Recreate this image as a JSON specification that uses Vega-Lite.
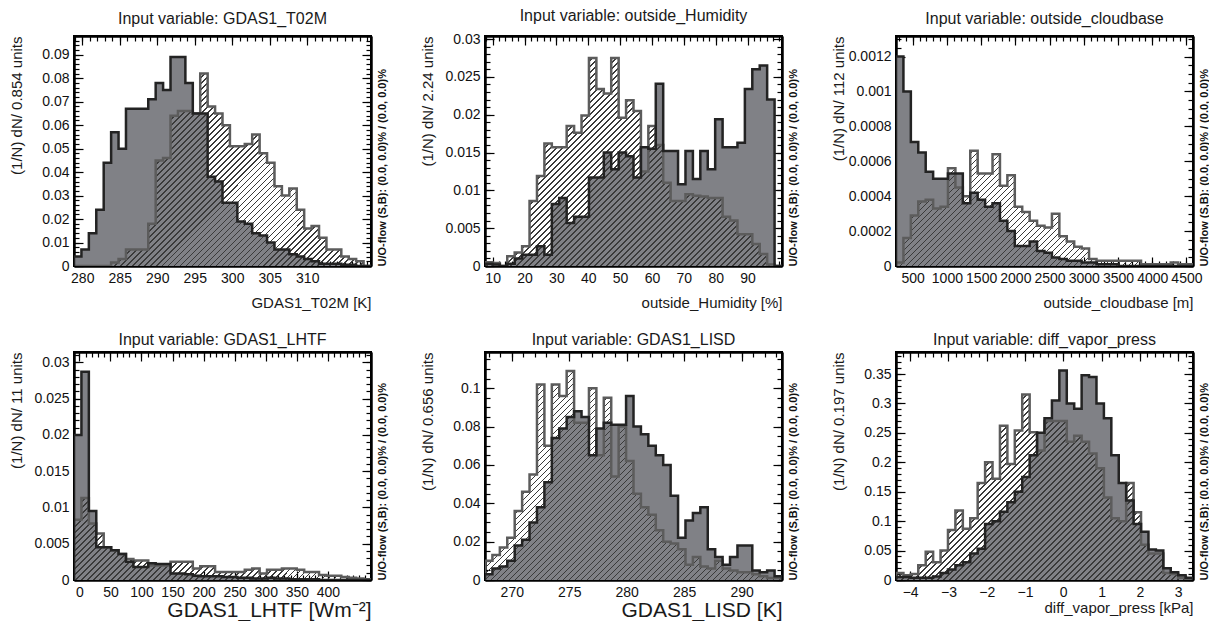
{
"$schema":"https://vega.github.io/schema/vega-lite/v6.json",
"autosize":{"type":"pad"},
"padding":{"left":7,"top":7,"right":0,"bottom":0},
"background":"white",
"params":[{"name":"hs","value":[
{"offset":0,"color":"transparent"},{"offset":0.007,"color":"transparent"},{"offset":0.007,"color":"#3a3a3a"},{"offset":0.01,"color":"#3a3a3a"},
{"offset":0.01,"color":"transparent"},{"offset":0.017,"color":"transparent"},{"offset":0.017,"color":"#3a3a3a"},{"offset":0.02,"color":"#3a3a3a"},
{"offset":0.02,"color":"transparent"},{"offset":0.027,"color":"transparent"},{"offset":0.027,"color":"#3a3a3a"},{"offset":0.03,"color":"#3a3a3a"},
{"offset":0.03,"color":"transparent"},{"offset":0.037,"color":"transparent"},{"offset":0.037,"color":"#3a3a3a"},{"offset":0.04,"color":"#3a3a3a"},
{"offset":0.04,"color":"transparent"},{"offset":0.047,"color":"transparent"},{"offset":0.047,"color":"#3a3a3a"},{"offset":0.05,"color":"#3a3a3a"},
{"offset":0.05,"color":"transparent"},{"offset":0.057,"color":"transparent"},{"offset":0.057,"color":"#3a3a3a"},{"offset":0.06,"color":"#3a3a3a"},
{"offset":0.06,"color":"transparent"},{"offset":0.067,"color":"transparent"},{"offset":0.067,"color":"#3a3a3a"},{"offset":0.07,"color":"#3a3a3a"},
{"offset":0.07,"color":"transparent"},{"offset":0.077,"color":"transparent"},{"offset":0.077,"color":"#3a3a3a"},{"offset":0.08,"color":"#3a3a3a"},
{"offset":0.08,"color":"transparent"},{"offset":0.087,"color":"transparent"},{"offset":0.087,"color":"#3a3a3a"},{"offset":0.09,"color":"#3a3a3a"},
{"offset":0.09,"color":"transparent"},{"offset":0.097,"color":"transparent"},{"offset":0.097,"color":"#3a3a3a"},{"offset":0.1,"color":"#3a3a3a"},
{"offset":0.1,"color":"transparent"},{"offset":0.107,"color":"transparent"},{"offset":0.107,"color":"#3a3a3a"},{"offset":0.11,"color":"#3a3a3a"},
{"offset":0.11,"color":"transparent"},{"offset":0.117,"color":"transparent"},{"offset":0.117,"color":"#3a3a3a"},{"offset":0.12,"color":"#3a3a3a"},
{"offset":0.12,"color":"transparent"},{"offset":0.127,"color":"transparent"},{"offset":0.127,"color":"#3a3a3a"},{"offset":0.13,"color":"#3a3a3a"},
{"offset":0.13,"color":"transparent"},{"offset":0.137,"color":"transparent"},{"offset":0.137,"color":"#3a3a3a"},{"offset":0.14,"color":"#3a3a3a"},
{"offset":0.14,"color":"transparent"},{"offset":0.147,"color":"transparent"},{"offset":0.147,"color":"#3a3a3a"},{"offset":0.15,"color":"#3a3a3a"},
{"offset":0.15,"color":"transparent"},{"offset":0.157,"color":"transparent"},{"offset":0.157,"color":"#3a3a3a"},{"offset":0.16,"color":"#3a3a3a"},
{"offset":0.16,"color":"transparent"},{"offset":0.167,"color":"transparent"},{"offset":0.167,"color":"#3a3a3a"},{"offset":0.17,"color":"#3a3a3a"},
{"offset":0.17,"color":"transparent"},{"offset":0.177,"color":"transparent"},{"offset":0.177,"color":"#3a3a3a"},{"offset":0.18,"color":"#3a3a3a"},
{"offset":0.18,"color":"transparent"},{"offset":0.187,"color":"transparent"},{"offset":0.187,"color":"#3a3a3a"},{"offset":0.19,"color":"#3a3a3a"},
{"offset":0.19,"color":"transparent"},{"offset":0.197,"color":"transparent"},{"offset":0.197,"color":"#3a3a3a"},{"offset":0.2,"color":"#3a3a3a"},
{"offset":0.2,"color":"transparent"},{"offset":0.207,"color":"transparent"},{"offset":0.207,"color":"#3a3a3a"},{"offset":0.21,"color":"#3a3a3a"},
{"offset":0.21,"color":"transparent"},{"offset":0.217,"color":"transparent"},{"offset":0.217,"color":"#3a3a3a"},{"offset":0.22,"color":"#3a3a3a"},
{"offset":0.22,"color":"transparent"},{"offset":0.227,"color":"transparent"},{"offset":0.227,"color":"#3a3a3a"},{"offset":0.23,"color":"#3a3a3a"},
{"offset":0.23,"color":"transparent"},{"offset":0.237,"color":"transparent"},{"offset":0.237,"color":"#3a3a3a"},{"offset":0.24,"color":"#3a3a3a"},
{"offset":0.24,"color":"transparent"},{"offset":0.247,"color":"transparent"},{"offset":0.247,"color":"#3a3a3a"},{"offset":0.25,"color":"#3a3a3a"},
{"offset":0.25,"color":"transparent"},{"offset":0.257,"color":"transparent"},{"offset":0.257,"color":"#3a3a3a"},{"offset":0.26,"color":"#3a3a3a"},
{"offset":0.26,"color":"transparent"},{"offset":0.267,"color":"transparent"},{"offset":0.267,"color":"#3a3a3a"},{"offset":0.27,"color":"#3a3a3a"},
{"offset":0.27,"color":"transparent"},{"offset":0.277,"color":"transparent"},{"offset":0.277,"color":"#3a3a3a"},{"offset":0.28,"color":"#3a3a3a"},
{"offset":0.28,"color":"transparent"},{"offset":0.287,"color":"transparent"},{"offset":0.287,"color":"#3a3a3a"},{"offset":0.29,"color":"#3a3a3a"},
{"offset":0.29,"color":"transparent"},{"offset":0.297,"color":"transparent"},{"offset":0.297,"color":"#3a3a3a"},{"offset":0.3,"color":"#3a3a3a"},
{"offset":0.3,"color":"transparent"},{"offset":0.307,"color":"transparent"},{"offset":0.307,"color":"#3a3a3a"},{"offset":0.31,"color":"#3a3a3a"},
{"offset":0.31,"color":"transparent"},{"offset":0.317,"color":"transparent"},{"offset":0.317,"color":"#3a3a3a"},{"offset":0.32,"color":"#3a3a3a"},
{"offset":0.32,"color":"transparent"},{"offset":0.327,"color":"transparent"},{"offset":0.327,"color":"#3a3a3a"},{"offset":0.33,"color":"#3a3a3a"},
{"offset":0.33,"color":"transparent"},{"offset":0.337,"color":"transparent"},{"offset":0.337,"color":"#3a3a3a"},{"offset":0.34,"color":"#3a3a3a"},
{"offset":0.34,"color":"transparent"},{"offset":0.347,"color":"transparent"},{"offset":0.347,"color":"#3a3a3a"},{"offset":0.35,"color":"#3a3a3a"},
{"offset":0.35,"color":"transparent"},{"offset":0.357,"color":"transparent"},{"offset":0.357,"color":"#3a3a3a"},{"offset":0.36,"color":"#3a3a3a"},
{"offset":0.36,"color":"transparent"},{"offset":0.367,"color":"transparent"},{"offset":0.367,"color":"#3a3a3a"},{"offset":0.37,"color":"#3a3a3a"},
{"offset":0.37,"color":"transparent"},{"offset":0.377,"color":"transparent"},{"offset":0.377,"color":"#3a3a3a"},{"offset":0.38,"color":"#3a3a3a"},
{"offset":0.38,"color":"transparent"},{"offset":0.387,"color":"transparent"},{"offset":0.387,"color":"#3a3a3a"},{"offset":0.39,"color":"#3a3a3a"},
{"offset":0.39,"color":"transparent"},{"offset":0.397,"color":"transparent"},{"offset":0.397,"color":"#3a3a3a"},{"offset":0.4,"color":"#3a3a3a"},
{"offset":0.4,"color":"transparent"},{"offset":0.407,"color":"transparent"},{"offset":0.407,"color":"#3a3a3a"},{"offset":0.41,"color":"#3a3a3a"},
{"offset":0.41,"color":"transparent"},{"offset":0.417,"color":"transparent"},{"offset":0.417,"color":"#3a3a3a"},{"offset":0.42,"color":"#3a3a3a"},
{"offset":0.42,"color":"transparent"},{"offset":0.427,"color":"transparent"},{"offset":0.427,"color":"#3a3a3a"},{"offset":0.43,"color":"#3a3a3a"},
{"offset":0.43,"color":"transparent"},{"offset":0.437,"color":"transparent"},{"offset":0.437,"color":"#3a3a3a"},{"offset":0.44,"color":"#3a3a3a"},
{"offset":0.44,"color":"transparent"},{"offset":0.447,"color":"transparent"},{"offset":0.447,"color":"#3a3a3a"},{"offset":0.45,"color":"#3a3a3a"},
{"offset":0.45,"color":"transparent"},{"offset":0.457,"color":"transparent"},{"offset":0.457,"color":"#3a3a3a"},{"offset":0.46,"color":"#3a3a3a"},
{"offset":0.46,"color":"transparent"},{"offset":0.467,"color":"transparent"},{"offset":0.467,"color":"#3a3a3a"},{"offset":0.47,"color":"#3a3a3a"},
{"offset":0.47,"color":"transparent"},{"offset":0.477,"color":"transparent"},{"offset":0.477,"color":"#3a3a3a"},{"offset":0.48,"color":"#3a3a3a"},
{"offset":0.48,"color":"transparent"},{"offset":0.487,"color":"transparent"},{"offset":0.487,"color":"#3a3a3a"},{"offset":0.49,"color":"#3a3a3a"},
{"offset":0.49,"color":"transparent"},{"offset":0.497,"color":"transparent"},{"offset":0.497,"color":"#3a3a3a"},{"offset":0.5,"color":"#3a3a3a"},
{"offset":0.5,"color":"transparent"},{"offset":0.507,"color":"transparent"},{"offset":0.507,"color":"#3a3a3a"},{"offset":0.51,"color":"#3a3a3a"},
{"offset":0.51,"color":"transparent"},{"offset":0.517,"color":"transparent"},{"offset":0.517,"color":"#3a3a3a"},{"offset":0.52,"color":"#3a3a3a"},
{"offset":0.52,"color":"transparent"},{"offset":0.527,"color":"transparent"},{"offset":0.527,"color":"#3a3a3a"},{"offset":0.53,"color":"#3a3a3a"},
{"offset":0.53,"color":"transparent"},{"offset":0.537,"color":"transparent"},{"offset":0.537,"color":"#3a3a3a"},{"offset":0.54,"color":"#3a3a3a"},
{"offset":0.54,"color":"transparent"},{"offset":0.547,"color":"transparent"},{"offset":0.547,"color":"#3a3a3a"},{"offset":0.55,"color":"#3a3a3a"},
{"offset":0.55,"color":"transparent"},{"offset":0.557,"color":"transparent"},{"offset":0.557,"color":"#3a3a3a"},{"offset":0.56,"color":"#3a3a3a"},
{"offset":0.56,"color":"transparent"},{"offset":0.567,"color":"transparent"},{"offset":0.567,"color":"#3a3a3a"},{"offset":0.57,"color":"#3a3a3a"},
{"offset":0.57,"color":"transparent"},{"offset":0.577,"color":"transparent"},{"offset":0.577,"color":"#3a3a3a"},{"offset":0.58,"color":"#3a3a3a"},
{"offset":0.58,"color":"transparent"},{"offset":0.587,"color":"transparent"},{"offset":0.587,"color":"#3a3a3a"},{"offset":0.59,"color":"#3a3a3a"},
{"offset":0.59,"color":"transparent"},{"offset":0.597,"color":"transparent"},{"offset":0.597,"color":"#3a3a3a"},{"offset":0.6,"color":"#3a3a3a"},
{"offset":0.6,"color":"transparent"},{"offset":0.607,"color":"transparent"},{"offset":0.607,"color":"#3a3a3a"},{"offset":0.61,"color":"#3a3a3a"},
{"offset":0.61,"color":"transparent"},{"offset":0.617,"color":"transparent"},{"offset":0.617,"color":"#3a3a3a"},{"offset":0.62,"color":"#3a3a3a"},
{"offset":0.62,"color":"transparent"},{"offset":0.627,"color":"transparent"},{"offset":0.627,"color":"#3a3a3a"},{"offset":0.63,"color":"#3a3a3a"},
{"offset":0.63,"color":"transparent"},{"offset":0.637,"color":"transparent"},{"offset":0.637,"color":"#3a3a3a"},{"offset":0.64,"color":"#3a3a3a"},
{"offset":0.64,"color":"transparent"},{"offset":0.647,"color":"transparent"},{"offset":0.647,"color":"#3a3a3a"},{"offset":0.65,"color":"#3a3a3a"},
{"offset":0.65,"color":"transparent"},{"offset":0.657,"color":"transparent"},{"offset":0.657,"color":"#3a3a3a"},{"offset":0.66,"color":"#3a3a3a"},
{"offset":0.66,"color":"transparent"},{"offset":0.667,"color":"transparent"},{"offset":0.667,"color":"#3a3a3a"},{"offset":0.67,"color":"#3a3a3a"},
{"offset":0.67,"color":"transparent"},{"offset":0.677,"color":"transparent"},{"offset":0.677,"color":"#3a3a3a"},{"offset":0.68,"color":"#3a3a3a"},
{"offset":0.68,"color":"transparent"},{"offset":0.687,"color":"transparent"},{"offset":0.687,"color":"#3a3a3a"},{"offset":0.69,"color":"#3a3a3a"},
{"offset":0.69,"color":"transparent"},{"offset":0.697,"color":"transparent"},{"offset":0.697,"color":"#3a3a3a"},{"offset":0.7,"color":"#3a3a3a"},
{"offset":0.7,"color":"transparent"},{"offset":0.707,"color":"transparent"},{"offset":0.707,"color":"#3a3a3a"},{"offset":0.71,"color":"#3a3a3a"},
{"offset":0.71,"color":"transparent"},{"offset":0.717,"color":"transparent"},{"offset":0.717,"color":"#3a3a3a"},{"offset":0.72,"color":"#3a3a3a"},
{"offset":0.72,"color":"transparent"},{"offset":0.727,"color":"transparent"},{"offset":0.727,"color":"#3a3a3a"},{"offset":0.73,"color":"#3a3a3a"},
{"offset":0.73,"color":"transparent"},{"offset":0.737,"color":"transparent"},{"offset":0.737,"color":"#3a3a3a"},{"offset":0.74,"color":"#3a3a3a"},
{"offset":0.74,"color":"transparent"},{"offset":0.747,"color":"transparent"},{"offset":0.747,"color":"#3a3a3a"},{"offset":0.75,"color":"#3a3a3a"},
{"offset":0.75,"color":"transparent"},{"offset":0.757,"color":"transparent"},{"offset":0.757,"color":"#3a3a3a"},{"offset":0.76,"color":"#3a3a3a"},
{"offset":0.76,"color":"transparent"},{"offset":0.767,"color":"transparent"},{"offset":0.767,"color":"#3a3a3a"},{"offset":0.77,"color":"#3a3a3a"},
{"offset":0.77,"color":"transparent"},{"offset":0.777,"color":"transparent"},{"offset":0.777,"color":"#3a3a3a"},{"offset":0.78,"color":"#3a3a3a"},
{"offset":0.78,"color":"transparent"},{"offset":0.787,"color":"transparent"},{"offset":0.787,"color":"#3a3a3a"},{"offset":0.79,"color":"#3a3a3a"},
{"offset":0.79,"color":"transparent"},{"offset":0.797,"color":"transparent"},{"offset":0.797,"color":"#3a3a3a"},{"offset":0.8,"color":"#3a3a3a"},
{"offset":0.8,"color":"transparent"},{"offset":0.807,"color":"transparent"},{"offset":0.807,"color":"#3a3a3a"},{"offset":0.81,"color":"#3a3a3a"},
{"offset":0.81,"color":"transparent"},{"offset":0.817,"color":"transparent"},{"offset":0.817,"color":"#3a3a3a"},{"offset":0.82,"color":"#3a3a3a"},
{"offset":0.82,"color":"transparent"},{"offset":0.827,"color":"transparent"},{"offset":0.827,"color":"#3a3a3a"},{"offset":0.83,"color":"#3a3a3a"},
{"offset":0.83,"color":"transparent"},{"offset":0.837,"color":"transparent"},{"offset":0.837,"color":"#3a3a3a"},{"offset":0.84,"color":"#3a3a3a"},
{"offset":0.84,"color":"transparent"},{"offset":0.847,"color":"transparent"},{"offset":0.847,"color":"#3a3a3a"},{"offset":0.85,"color":"#3a3a3a"},
{"offset":0.85,"color":"transparent"},{"offset":0.857,"color":"transparent"},{"offset":0.857,"color":"#3a3a3a"},{"offset":0.86,"color":"#3a3a3a"},
{"offset":0.86,"color":"transparent"},{"offset":0.867,"color":"transparent"},{"offset":0.867,"color":"#3a3a3a"},{"offset":0.87,"color":"#3a3a3a"},
{"offset":0.87,"color":"transparent"},{"offset":0.877,"color":"transparent"},{"offset":0.877,"color":"#3a3a3a"},{"offset":0.88,"color":"#3a3a3a"},
{"offset":0.88,"color":"transparent"},{"offset":0.887,"color":"transparent"},{"offset":0.887,"color":"#3a3a3a"},{"offset":0.89,"color":"#3a3a3a"},
{"offset":0.89,"color":"transparent"},{"offset":0.897,"color":"transparent"},{"offset":0.897,"color":"#3a3a3a"},{"offset":0.9,"color":"#3a3a3a"}
]}],
"datasets":{
"p1":[
{"i":0,"x":278.9,"s":0,"b":0},{"i":1,"x":278.9,"s":0.004,"b":0},{"i":2,"x":279.89,"s":0.007,"b":0},{"i":3,"x":280.88,"s":0.014,"b":0},{"i":4,"x":281.87,"s":0.024,"b":0},{"i":5,"x":282.86,"s":0.044,"b":0},{"i":6,"x":283.85,"s":0.057,"b":0.0015},{"i":7,"x":284.84,"s":0.05,"b":0.003},{"i":8,"x":285.83,"s":0.067,"b":0.007},{"i":9,"x":286.82,"s":0.067,"b":0.007},{"i":10,"x":287.81,"s":0.067,"b":0.007},{"i":11,"x":288.8,"s":0.071,"b":0.018},{"i":12,"x":289.79,"s":0.078,"b":0.045},{"i":13,"x":290.78,"s":0.075,"b":0.046},{"i":14,"x":291.77,"s":0.089,"b":0.064},{"i":15,"x":292.76,"s":0.089,"b":0.066},{"i":16,"x":293.75,"s":0.078,"b":0.066},{"i":17,"x":294.74,"s":0.065,"b":0.065},{"i":18,"x":295.73,"s":0.065,"b":0.082},{"i":19,"x":296.72,"s":0.038,"b":0.068},{"i":20,"x":297.71,"s":0.036,"b":0.065},{"i":21,"x":298.7,"s":0.027,"b":0.06},{"i":22,"x":299.69,"s":0.027,"b":0.051},{"i":23,"x":300.68,"s":0.019,"b":0.051},{"i":24,"x":301.67,"s":0.018,"b":0.052},{"i":25,"x":302.66,"s":0.014,"b":0.056},{"i":26,"x":303.65,"s":0.013,"b":0.048},{"i":27,"x":304.64,"s":0.01,"b":0.044},{"i":28,"x":305.63,"s":0.007,"b":0.034},{"i":29,"x":306.62,"s":0.007,"b":0.03},{"i":30,"x":307.61,"s":0.005,"b":0.033},{"i":31,"x":308.6,"s":0.004,"b":0.024},{"i":32,"x":309.59,"s":0.003,"b":0.016},{"i":33,"x":310.58,"s":0.002,"b":0.017},{"i":34,"x":311.57,"s":0.001,"b":0.012},{"i":35,"x":312.56,"s":0.001,"b":0.007},{"i":36,"x":313.55,"s":0.001,"b":0.007},{"i":37,"x":314.54,"s":0.0005,"b":0.004},{"i":38,"x":315.53,"s":0.0005,"b":0.003},{"i":39,"x":316.52,"s":0,"b":0.002},{"i":40,"x":317.51,"s":0,"b":0},{"i":41,"x":318.5,"s":0,"b":0}
],
"p2":[
{"i":0,"x":7.6,"s":0,"b":0},{"i":1,"x":7.6,"s":0.0003,"b":0.0005},{"i":2,"x":9.93,"s":0.0002,"b":0.0004},{"i":3,"x":12.26,"s":0,"b":0},{"i":4,"x":14.59,"s":0.0003,"b":0.0013},{"i":5,"x":16.92,"s":0.001,"b":0.0018},{"i":6,"x":19.25,"s":0.0015,"b":0.0026},{"i":7,"x":21.58,"s":0.0015,"b":0.0086},{"i":8,"x":23.91,"s":0.0026,"b":0.0119},{"i":9,"x":26.24,"s":0.0015,"b":0.0162},{"i":10,"x":28.57,"s":0.0082,"b":0.0157},{"i":11,"x":30.9,"s":0.009,"b":0.0157},{"i":12,"x":33.23,"s":0.0057,"b":0.0185},{"i":13,"x":35.56,"s":0.0065,"b":0.0176},{"i":14,"x":37.89,"s":0.0065,"b":0.0199},{"i":15,"x":40.22,"s":0.0117,"b":0.0275},{"i":16,"x":42.55,"s":0.0117,"b":0.0234},{"i":17,"x":44.88,"s":0.015,"b":0.0228},{"i":18,"x":47.21,"s":0.0128,"b":0.0275},{"i":19,"x":49.54,"s":0.015,"b":0.0196},{"i":20,"x":51.87,"s":0.0145,"b":0.0219},{"i":21,"x":54.2,"s":0.0117,"b":0.0205},{"i":22,"x":56.53,"s":0.0157,"b":0.0125},{"i":23,"x":58.86,"s":0.0155,"b":0.0185},{"i":24,"x":61.19,"s":0.0241,"b":0.016},{"i":25,"x":63.52,"s":0.0152,"b":0.011},{"i":26,"x":65.85,"s":0.0152,"b":0.0086},{"i":27,"x":68.18,"s":0.0108,"b":0.0086},{"i":28,"x":70.51,"s":0.0152,"b":0.0095},{"i":29,"x":72.84,"s":0.0115,"b":0.0093},{"i":30,"x":75.17,"s":0.0152,"b":0.0092},{"i":31,"x":77.5,"s":0.0128,"b":0.009},{"i":32,"x":79.83,"s":0.0194,"b":0.009},{"i":33,"x":82.16,"s":0.0157,"b":0.0065},{"i":34,"x":84.49,"s":0.0157,"b":0.006},{"i":35,"x":86.82,"s":0.0163,"b":0.0042},{"i":36,"x":89.15,"s":0.0234,"b":0.0042},{"i":37,"x":91.48,"s":0.026,"b":0.0029},{"i":38,"x":93.81,"s":0.0265,"b":0.0016},{"i":39,"x":96.14,"s":0.022,"b":0.0002},{"i":40,"x":98.47,"s":0,"b":0},{"i":41,"x":100.8,"s":0,"b":0}
],
"p3":[
{"i":0,"x":256,"s":0,"b":0},{"i":1,"x":256,"s":0.0012,"b":0.00002},{"i":2,"x":364.5,"s":0.001,"b":0.00016},{"i":3,"x":473,"s":0.00071,"b":0.00029},{"i":4,"x":581.5,"s":0.00065,"b":0.00037},{"i":5,"x":690,"s":0.00054,"b":0.00038},{"i":6,"x":798.5,"s":0.0005,"b":0.00033},{"i":7,"x":907,"s":0.0005,"b":0.00034},{"i":8,"x":1015.5,"s":0.00053,"b":0.00056},{"i":9,"x":1124,"s":0.00053,"b":0.00045},{"i":10,"x":1232.5,"s":0.00036,"b":0.0004},{"i":11,"x":1341,"s":0.00042,"b":0.00066},{"i":12,"x":1449.5,"s":0.00038,"b":0.00053},{"i":13,"x":1558,"s":0.00034,"b":0.00053},{"i":14,"x":1666.5,"s":0.00036,"b":0.00064},{"i":15,"x":1775,"s":0.00026,"b":0.00046},{"i":16,"x":1883.5,"s":0.0002,"b":0.00052},{"i":17,"x":1992,"s":0.000115,"b":0.00034},{"i":18,"x":2100.5,"s":0.000115,"b":0.00031},{"i":19,"x":2209,"s":0.00014,"b":0.00026},{"i":20,"x":2317.5,"s":0.000086,"b":0.00023},{"i":21,"x":2426,"s":0.000076,"b":0.00022},{"i":22,"x":2534.5,"s":0.000048,"b":0.0003},{"i":23,"x":2643,"s":0.00004,"b":0.00017},{"i":24,"x":2751.5,"s":0.00003,"b":0.00014},{"i":25,"x":2860,"s":0.00003,"b":0.00011},{"i":26,"x":2968.5,"s":0.00002,"b":0.0001},{"i":27,"x":3077,"s":0.00002,"b":0.00004},{"i":28,"x":3185.5,"s":0.00001,"b":0.00003},{"i":29,"x":3294,"s":0.00001,"b":0.00003},{"i":30,"x":3402.5,"s":0.00001,"b":0.00003},{"i":31,"x":3511,"s":0,"b":0.00003},{"i":32,"x":3619.5,"s":0,"b":0.00003},{"i":33,"x":3728,"s":0,"b":0.00003},{"i":34,"x":3836.5,"s":0,"b":0.00001},{"i":35,"x":3945,"s":0,"b":0.00001},{"i":36,"x":4053.5,"s":0,"b":0.00001},{"i":37,"x":4162,"s":0,"b":0.00001},{"i":38,"x":4270.5,"s":0,"b":0.00002},{"i":39,"x":4379,"s":0,"b":0.00001},{"i":40,"x":4487.5,"s":0,"b":0.00001},{"i":41,"x":4596,"s":0,"b":0}
],
"p4":[
{"i":0,"x":-8.6,"s":0,"b":0},{"i":1,"x":-8.6,"s":0.02,"b":0.0083},{"i":2,"x":3.35,"s":0.0287,"b":0.0113},{"i":3,"x":15.3,"s":0.0095,"b":0.0078},{"i":4,"x":27.25,"s":0.0045,"b":0.0064},{"i":5,"x":39.2,"s":0.0045,"b":0.0045},{"i":6,"x":51.15,"s":0.0041,"b":0.0041},{"i":7,"x":63.1,"s":0.0036,"b":0.0036},{"i":8,"x":75.05,"s":0.0025,"b":0.0029},{"i":9,"x":87,"s":0.0018,"b":0.0027},{"i":10,"x":98.95,"s":0.0018,"b":0.0027},{"i":11,"x":110.9,"s":0.0023,"b":0.002},{"i":12,"x":122.85,"s":0.0022,"b":0.002},{"i":13,"x":134.8,"s":0.0022,"b":0.002},{"i":14,"x":146.75,"s":0.0009,"b":0.0025},{"i":15,"x":158.7,"s":0.0009,"b":0.0025},{"i":16,"x":170.65,"s":0.0008,"b":0.0025},{"i":17,"x":182.6,"s":0.0006,"b":0.0016},{"i":18,"x":194.55,"s":0.0005,"b":0.0019},{"i":19,"x":206.5,"s":0.0005,"b":0.0019},{"i":20,"x":218.45,"s":0.0005,"b":0.0011},{"i":21,"x":230.4,"s":0.0004,"b":0.0011},{"i":22,"x":242.35,"s":0.0004,"b":0.0011},{"i":23,"x":254.3,"s":0.0003,"b":0.0011},{"i":24,"x":266.25,"s":0.0003,"b":0.0014},{"i":25,"x":278.2,"s":0.0002,"b":0.0016},{"i":26,"x":290.15,"s":0.0002,"b":0.0009},{"i":27,"x":302.1,"s":0.0003,"b":0.0014},{"i":28,"x":314.05,"s":0.0002,"b":0.0014},{"i":29,"x":326,"s":0.0002,"b":0.0016},{"i":30,"x":337.95,"s":0.0001,"b":0.0016},{"i":31,"x":349.9,"s":0.0001,"b":0.0014},{"i":32,"x":361.85,"s":0.0001,"b":0.0011},{"i":33,"x":373.8,"s":0.0001,"b":0.0011},{"i":34,"x":385.75,"s":0,"b":0.0007},{"i":35,"x":397.7,"s":0,"b":0.0006},{"i":36,"x":409.65,"s":0,"b":0.0006},{"i":37,"x":421.6,"s":0,"b":0.0004},{"i":38,"x":433.55,"s":0,"b":0.0003},{"i":39,"x":445.5,"s":0,"b":0.0002},{"i":40,"x":457.45,"s":0,"b":0.0001},{"i":41,"x":469.4,"s":0,"b":0}
],
"p5":[
{"i":0,"x":267.67,"s":0,"b":0},{"i":1,"x":267.67,"s":0.003,"b":0.01},{"i":2,"x":268.316,"s":0.006,"b":0.013},{"i":3,"x":268.962,"s":0.007,"b":0.017},{"i":4,"x":269.608,"s":0.01,"b":0.022},{"i":5,"x":270.254,"s":0.018,"b":0.036},{"i":6,"x":270.9,"s":0.021,"b":0.046},{"i":7,"x":271.546,"s":0.03,"b":0.055},{"i":8,"x":272.192,"s":0.038,"b":0.102},{"i":9,"x":272.838,"s":0.051,"b":0.07},{"i":10,"x":273.484,"s":0.074,"b":0.102},{"i":11,"x":274.13,"s":0.079,"b":0.096},{"i":12,"x":274.776,"s":0.085,"b":0.109},{"i":13,"x":275.422,"s":0.088,"b":0.082},{"i":14,"x":276.068,"s":0.085,"b":0.082},{"i":15,"x":276.714,"s":0.065,"b":0.1},{"i":16,"x":277.36,"s":0.079,"b":0.065},{"i":17,"x":278.006,"s":0.082,"b":0.095},{"i":18,"x":278.652,"s":0.081,"b":0.054},{"i":19,"x":279.298,"s":0.081,"b":0.08},{"i":20,"x":279.944,"s":0.096,"b":0.062},{"i":21,"x":280.59,"s":0.08,"b":0.045},{"i":22,"x":281.236,"s":0.076,"b":0.038},{"i":23,"x":281.882,"s":0.07,"b":0.034},{"i":24,"x":282.528,"s":0.065,"b":0.026},{"i":25,"x":283.174,"s":0.06,"b":0.02},{"i":26,"x":283.82,"s":0.044,"b":0.019},{"i":27,"x":284.466,"s":0.022,"b":0.016},{"i":28,"x":285.112,"s":0.031,"b":0.008},{"i":29,"x":285.758,"s":0.035,"b":0.012},{"i":30,"x":286.404,"s":0.038,"b":0.007},{"i":31,"x":287.05,"s":0.016,"b":0.006},{"i":32,"x":287.696,"s":0.012,"b":0.01},{"i":33,"x":288.342,"s":0.008,"b":0.006},{"i":34,"x":288.988,"s":0.012,"b":0.005},{"i":35,"x":289.634,"s":0.018,"b":0.004},{"i":36,"x":290.28,"s":0.018,"b":0.004},{"i":37,"x":290.926,"s":0.005,"b":0.003},{"i":38,"x":291.572,"s":0.004,"b":0.002},{"i":39,"x":292.218,"s":0.005,"b":0.001},{"i":40,"x":292.864,"s":0.002,"b":0.001},{"i":41,"x":293.51,"s":0,"b":0}
],
"p6":[
{"i":0,"x":-4.37,"s":0,"b":0},{"i":1,"x":-4.37,"s":0.005,"b":0.012},{"i":2,"x":-4.176,"s":0.005,"b":0.008},{"i":3,"x":-3.982,"s":0.004,"b":0.01},{"i":4,"x":-3.788,"s":0.004,"b":0.025},{"i":5,"x":-3.594,"s":0.004,"b":0.048},{"i":6,"x":-3.4,"s":0.006,"b":0.03},{"i":7,"x":-3.206,"s":0.012,"b":0.05},{"i":8,"x":-3.012,"s":0.018,"b":0.085},{"i":9,"x":-2.818,"s":0.025,"b":0.118},{"i":10,"x":-2.624,"s":0.03,"b":0.087},{"i":11,"x":-2.43,"s":0.045,"b":0.105},{"i":12,"x":-2.236,"s":0.053,"b":0.165},{"i":13,"x":-2.042,"s":0.095,"b":0.2},{"i":14,"x":-1.848,"s":0.1,"b":0.172},{"i":15,"x":-1.654,"s":0.116,"b":0.262},{"i":16,"x":-1.46,"s":0.132,"b":0.197},{"i":17,"x":-1.266,"s":0.15,"b":0.254},{"i":18,"x":-1.072,"s":0.175,"b":0.315},{"i":19,"x":-0.878,"s":0.212,"b":0.251},{"i":20,"x":-0.684,"s":0.25,"b":0.22},{"i":21,"x":-0.49,"s":0.275,"b":0.27},{"i":22,"x":-0.296,"s":0.305,"b":0.27},{"i":23,"x":-0.102,"s":0.356,"b":0.27},{"i":24,"x":0.092,"s":0.3,"b":0.235},{"i":25,"x":0.286,"s":0.291,"b":0.245},{"i":26,"x":0.48,"s":0.348,"b":0.235},{"i":27,"x":0.674,"s":0.345,"b":0.215},{"i":28,"x":0.868,"s":0.3,"b":0.19},{"i":29,"x":1.062,"s":0.275,"b":0.14},{"i":30,"x":1.256,"s":0.212,"b":0.105},{"i":31,"x":1.45,"s":0.165,"b":0.1},{"i":32,"x":1.644,"s":0.135,"b":0.165},{"i":33,"x":1.838,"s":0.095,"b":0.115},{"i":34,"x":2.032,"s":0.082,"b":0.06},{"i":35,"x":2.226,"s":0.052,"b":0.045},{"i":36,"x":2.42,"s":0.05,"b":0.045},{"i":37,"x":2.614,"s":0.02,"b":0.012},{"i":38,"x":2.808,"s":0.013,"b":0.01},{"i":39,"x":3.002,"s":0.008,"b":0.004},{"i":40,"x":3.196,"s":0.004,"b":0.002},{"i":41,"x":3.39,"s":0,"b":0}
]
},
"columns":3,
"spacing":{"row":86,"column":114},
"bounds":"flush",
"concat":[
{"width":297,"height":230,"title":{"text":"Input variable: GDAS1_T02M"},"data":{"name":"p1"},
 "resolve":{"axis":{"x":"independent","y":"independent"}},
 "layer":[
  {"mark":{"type":"area","interpolate":"step-after","fill":"#808186","clip":true},
   "encoding":{"x":{"field":"x","type":"quantitative","scale":{"domain":[278.9,318.5],"nice":false,"zero":false},"axis":{"orient":"bottom","values":[280,285,290,295,300,305,310],"labelExpr":"format(datum.value,'~g')","title":"GDAS1_T02M [K]","titlePadding":10}},
    "y":{"field":"s","type":"quantitative","stack":null,"scale":{"domain":[0,0.098],"nice":false},"axis":{"orient":"left","values":[0,0.01,0.02,0.03,0.04,0.05,0.06,0.07,0.08,0.09],"labelExpr":"format(datum.value,'~g')","title":"(1/N) dN/ 0.854 units"}}}},
  {"mark":{"type":"area","interpolate":"step-after","clip":true,"fill":{"expr":"{gradient:'linear',x1:0,y1:0,x2:1.42,y2:0.92,stops:hs}"}},
   "encoding":{"x":{"field":"x","type":"quantitative","scale":{"domain":[278.9,318.5],"nice":false,"zero":false},"axis":{"orient":"bottom","tickCount":40,"labels":false,"title":null,"tickSize":-5}},
    "y":{"field":"b","type":"quantitative","stack":null,"scale":{"domain":[0,0.098],"nice":false},"axis":{"orient":"left","tickCount":50,"labels":false,"title":null,"tickSize":-5}}}},
  {"mark":{"type":"line","interpolate":"step-after","stroke":"#5c5c5c","strokeWidth":2.5,"clip":true},
   "encoding":{"x":{"field":"x","type":"quantitative","scale":{"domain":[278.9,318.5],"nice":false,"zero":false},"axis":{"orient":"top","values":[280,285,290,295,300,305,310],"labels":false,"title":null}},
    "y":{"field":"b","type":"quantitative","scale":{"domain":[0,0.098],"nice":false},"axis":{"orient":"right","values":[0,0.01,0.02,0.03,0.04,0.05,0.06,0.07,0.08,0.09],"labels":false,"title":"U/O-flow (S,B): (0.0, 0.0)% / (0.0, 0.0)%"}},"order":{"field":"i"}}},
  {"mark":{"type":"line","interpolate":"step-after","stroke":"#232323","strokeWidth":2.5,"clip":true},
   "encoding":{"x":{"field":"x","type":"quantitative","scale":{"domain":[278.9,318.5],"nice":false,"zero":false},"axis":{"orient":"top","tickCount":40,"labels":false,"title":null,"tickSize":-5}},
    "y":{"field":"s","type":"quantitative","scale":{"domain":[0,0.098],"nice":false},"axis":{"orient":"right","tickCount":50,"labels":false,"title":null,"tickSize":-5}},"order":{"field":"i"}}}
 ]},
{"width":297,"height":230,"title":{"text":"Input variable: outside_Humidity"},"data":{"name":"p2"},
 "resolve":{"axis":{"x":"independent","y":"independent"}},
 "layer":[
  {"mark":{"type":"area","interpolate":"step-after","fill":"#808186","clip":true},
   "encoding":{"x":{"field":"x","type":"quantitative","scale":{"domain":[7.6,100.8],"nice":false,"zero":false},"axis":{"orient":"bottom","values":[10,20,30,40,50,60,70,80,90],"labelExpr":"format(datum.value,'~g')","title":"outside_Humidity [%]","titlePadding":10}},
    "y":{"field":"s","type":"quantitative","stack":null,"scale":{"domain":[0,0.0304],"nice":false},"axis":{"orient":"left","values":[0,0.005,0.01,0.015,0.02,0.025,0.03],"labelExpr":"format(datum.value,'~g')","title":"(1/N) dN/ 2.24 units"}}}},
  {"mark":{"type":"area","interpolate":"step-after","clip":true,"fill":{"expr":"{gradient:'linear',x1:0,y1:0,x2:1.356,y2:0.95,stops:hs}"}},
   "encoding":{"x":{"field":"x","type":"quantitative","scale":{"domain":[7.6,100.8],"nice":false,"zero":false},"axis":{"orient":"bottom","tickCount":47,"labels":false,"title":null,"tickSize":-5}},
    "y":{"field":"b","type":"quantitative","stack":null,"scale":{"domain":[0,0.0304],"nice":false},"axis":{"orient":"left","tickCount":30,"labels":false,"title":null,"tickSize":-5}}}},
  {"mark":{"type":"line","interpolate":"step-after","stroke":"#5c5c5c","strokeWidth":2.5,"clip":true},
   "encoding":{"x":{"field":"x","type":"quantitative","scale":{"domain":[7.6,100.8],"nice":false,"zero":false},"axis":{"orient":"top","values":[10,20,30,40,50,60,70,80,90],"labels":false,"title":null}},
    "y":{"field":"b","type":"quantitative","scale":{"domain":[0,0.0304],"nice":false},"axis":{"orient":"right","values":[0,0.005,0.01,0.015,0.02,0.025,0.03],"labels":false,"title":"U/O-flow (S,B): (0.0, 0.0)% / (0.0, 0.0)%"}},"order":{"field":"i"}}},
  {"mark":{"type":"line","interpolate":"step-after","stroke":"#232323","strokeWidth":2.5,"clip":true},
   "encoding":{"x":{"field":"x","type":"quantitative","scale":{"domain":[7.6,100.8],"nice":false,"zero":false},"axis":{"orient":"top","tickCount":47,"labels":false,"title":null,"tickSize":-5}},
    "y":{"field":"s","type":"quantitative","scale":{"domain":[0,0.0304],"nice":false},"axis":{"orient":"right","tickCount":30,"labels":false,"title":null,"tickSize":-5}},"order":{"field":"i"}}}
 ]},
{"width":297,"height":230,"title":{"text":"Input variable: outside_cloudbase"},"data":{"name":"p3"},
 "resolve":{"axis":{"x":"independent","y":"independent"}},
 "layer":[
  {"mark":{"type":"area","interpolate":"step-after","fill":"#808186","clip":true},
   "encoding":{"x":{"field":"x","type":"quantitative","scale":{"domain":[256,4596],"nice":false,"zero":false},"axis":{"orient":"bottom","values":[500,1000,1500,2000,2500,3000,3500,4000,4500],"labelExpr":"format(datum.value,'~g')","title":"outside_cloudbase [m]","titlePadding":10}},
    "y":{"field":"s","type":"quantitative","stack":null,"scale":{"domain":[0,0.001318],"nice":false},"axis":{"orient":"left","values":[0,0.0002,0.0004,0.0006,0.0008,0.001,0.0012],"labelExpr":"format(datum.value,'~g')","title":"(1/N) dN/ 112 units"}}}},
  {"mark":{"type":"area","interpolate":"step-after","clip":true,"fill":{"expr":"{gradient:'linear',x1:0,y1:0,x2:1.757,y2:0.682,stops:hs}"}},
   "encoding":{"x":{"field":"x","type":"quantitative","scale":{"domain":[256,4596],"nice":false,"zero":false},"axis":{"orient":"bottom","tickCount":43,"labels":false,"title":null,"tickSize":-5}},
    "y":{"field":"b","type":"quantitative","stack":null,"scale":{"domain":[0,0.001318],"nice":false},"axis":{"orient":"left","tickCount":26,"labels":false,"title":null,"tickSize":-5}}}},
  {"mark":{"type":"line","interpolate":"step-after","stroke":"#5c5c5c","strokeWidth":2.5,"clip":true},
   "encoding":{"x":{"field":"x","type":"quantitative","scale":{"domain":[256,4596],"nice":false,"zero":false},"axis":{"orient":"top","values":[500,1000,1500,2000,2500,3000,3500,4000,4500],"labels":false,"title":null}},
    "y":{"field":"b","type":"quantitative","scale":{"domain":[0,0.001318],"nice":false},"axis":{"orient":"right","values":[0,0.0002,0.0004,0.0006,0.0008,0.001,0.0012],"labels":false,"title":"U/O-flow (S,B): (0.0, 0.0)% / (0.0, 0.0)%"}},"order":{"field":"i"}}},
  {"mark":{"type":"line","interpolate":"step-after","stroke":"#232323","strokeWidth":2.5,"clip":true},
   "encoding":{"x":{"field":"x","type":"quantitative","scale":{"domain":[256,4596],"nice":false,"zero":false},"axis":{"orient":"top","tickCount":43,"labels":false,"title":null,"tickSize":-5}},
    "y":{"field":"s","type":"quantitative","scale":{"domain":[0,0.001318],"nice":false},"axis":{"orient":"right","tickCount":26,"labels":false,"title":null,"tickSize":-5}},"order":{"field":"i"}}}
 ]},
{"width":297,"height":228,"title":{"text":"Input variable: GDAS1_LHTF","offset":3},"data":{"name":"p4"},
 "resolve":{"axis":{"x":"independent","y":"independent"}},
 "layer":[
  {"mark":{"type":"area","interpolate":"step-after","fill":"#808186","clip":true},
   "encoding":{"x":{"field":"x","type":"quantitative","scale":{"domain":[-8.6,469.4],"nice":false,"zero":false},"axis":{"orient":"bottom","values":[0,50,100,150,200,250,300,350,400],"labelExpr":"format(datum.value,'~g')","title":"GDAS1_LHTF [Wm⁻²]","titleFontSize":21,"titlePadding":0}},
    "y":{"field":"s","type":"quantitative","stack":null,"scale":{"domain":[0,0.03143],"nice":false},"axis":{"orient":"left","values":[0,0.005,0.01,0.015,0.02,0.025,0.03],"labelExpr":"format(datum.value,'~g')","title":"(1/N) dN/ 11 units"}}}},
  {"mark":{"type":"area","interpolate":"step-after","clip":true,"fill":{"expr":"{gradient:'linear',x1:0,y1:0,x2:1.877,y2:0.518,stops:hs}"}},
   "encoding":{"x":{"field":"x","type":"quantitative","scale":{"domain":[-8.6,469.4],"nice":false,"zero":false},"axis":{"orient":"bottom","tickCount":48,"labels":false,"title":null,"tickSize":-5}},
    "y":{"field":"b","type":"quantitative","stack":null,"scale":{"domain":[0,0.03143],"nice":false},"axis":{"orient":"left","tickCount":31,"labels":false,"title":null,"tickSize":-5}}}},
  {"mark":{"type":"line","interpolate":"step-after","stroke":"#5c5c5c","strokeWidth":2.5,"clip":true},
   "encoding":{"x":{"field":"x","type":"quantitative","scale":{"domain":[-8.6,469.4],"nice":false,"zero":false},"axis":{"orient":"top","values":[0,50,100,150,200,250,300,350,400],"labels":false,"title":null}},
    "y":{"field":"b","type":"quantitative","scale":{"domain":[0,0.03143],"nice":false},"axis":{"orient":"right","values":[0,0.005,0.01,0.015,0.02,0.025,0.03],"labels":false,"title":"U/O-flow (S,B): (0.0, 0.0)% / (0.0, 0.0)%"}},"order":{"field":"i"}}},
  {"mark":{"type":"line","interpolate":"step-after","stroke":"#232323","strokeWidth":2.5,"clip":true},
   "encoding":{"x":{"field":"x","type":"quantitative","scale":{"domain":[-8.6,469.4],"nice":false,"zero":false},"axis":{"orient":"top","tickCount":48,"labels":false,"title":null,"tickSize":-5}},
    "y":{"field":"s","type":"quantitative","scale":{"domain":[0,0.03143],"nice":false},"axis":{"orient":"right","tickCount":31,"labels":false,"title":null,"tickSize":-5}},"order":{"field":"i"}}}
 ]},
{"width":297,"height":228,"title":{"text":"Input variable: GDAS1_LISD","offset":3},"data":{"name":"p5"},
 "resolve":{"axis":{"x":"independent","y":"independent"}},
 "layer":[
  {"mark":{"type":"area","interpolate":"step-after","fill":"#808186","clip":true},
   "encoding":{"x":{"field":"x","type":"quantitative","scale":{"domain":[267.67,293.51],"nice":false,"zero":false},"axis":{"orient":"bottom","values":[270,275,280,285,290],"labelExpr":"format(datum.value,'~g')","title":"GDAS1_LISD [K]","titleFontSize":21,"titlePadding":0}},
    "y":{"field":"s","type":"quantitative","stack":null,"scale":{"domain":[0,0.1189],"nice":false},"axis":{"orient":"left","values":[0,0.02,0.04,0.06,0.08,0.1],"labelExpr":"format(datum.value,'~g')","title":"(1/N) dN/ 0.656 units"}}}},
  {"mark":{"type":"area","interpolate":"step-after","clip":true,"fill":{"expr":"{gradient:'linear',x1:0,y1:0,x2:1.351,y2:0.951,stops:hs}"}},
   "encoding":{"x":{"field":"x","type":"quantitative","scale":{"domain":[267.67,293.51],"nice":false,"zero":false},"axis":{"orient":"bottom","tickCount":26,"labels":false,"title":null,"tickSize":-5}},
    "y":{"field":"b","type":"quantitative","stack":null,"scale":{"domain":[0,0.1189],"nice":false},"axis":{"orient":"left","tickCount":24,"labels":false,"title":null,"tickSize":-5}}}},
  {"mark":{"type":"line","interpolate":"step-after","stroke":"#5c5c5c","strokeWidth":2.5,"clip":true},
   "encoding":{"x":{"field":"x","type":"quantitative","scale":{"domain":[267.67,293.51],"nice":false,"zero":false},"axis":{"orient":"top","values":[270,275,280,285,290],"labels":false,"title":null}},
    "y":{"field":"b","type":"quantitative","scale":{"domain":[0,0.1189],"nice":false},"axis":{"orient":"right","values":[0,0.02,0.04,0.06,0.08,0.1],"labels":false,"title":"U/O-flow (S,B): (0.0, 0.0)% / (0.0, 0.0)%"}},"order":{"field":"i"}}},
  {"mark":{"type":"line","interpolate":"step-after","stroke":"#232323","strokeWidth":2.5,"clip":true},
   "encoding":{"x":{"field":"x","type":"quantitative","scale":{"domain":[267.67,293.51],"nice":false,"zero":false},"axis":{"orient":"top","tickCount":26,"labels":false,"title":null,"tickSize":-5}},
    "y":{"field":"s","type":"quantitative","scale":{"domain":[0,0.1189],"nice":false},"axis":{"orient":"right","tickCount":24,"labels":false,"title":null,"tickSize":-5}},"order":{"field":"i"}}}
 ]},
{"width":297,"height":228,"title":{"text":"Input variable: diff_vapor_press","offset":3},"data":{"name":"p6"},
 "resolve":{"axis":{"x":"independent","y":"independent"}},
 "layer":[
  {"mark":{"type":"area","interpolate":"step-after","fill":"#808186","clip":true},
   "encoding":{"x":{"field":"x","type":"quantitative","scale":{"domain":[-4.37,3.39],"nice":false,"zero":false},"axis":{"orient":"bottom","values":[-4,-3,-2,-1,0,1,2,3],"labelExpr":"format(datum.value,'~g')","title":"diff_vapor_press [kPa]","titlePadding":1}},
    "y":{"field":"s","type":"quantitative","stack":null,"scale":{"domain":[0,0.3874],"nice":false},"axis":{"orient":"left","values":[0,0.05,0.1,0.15,0.2,0.25,0.3,0.35],"labelExpr":"format(datum.value,'~g')","title":"(1/N) dN/ 0.197 units"}}}},
  {"mark":{"type":"area","interpolate":"step-after","clip":true,"fill":{"expr":"{gradient:'linear',x1:0,y1:0,x2:1.453,y2:0.907,stops:hs}"}},
   "encoding":{"x":{"field":"x","type":"quantitative","scale":{"domain":[-4.37,3.39],"nice":false,"zero":false},"axis":{"orient":"bottom","tickCount":39,"labels":false,"title":null,"tickSize":-5}},
    "y":{"field":"b","type":"quantitative","stack":null,"scale":{"domain":[0,0.3874],"nice":false},"axis":{"orient":"left","tickCount":39,"labels":false,"title":null,"tickSize":-5}}}},
  {"mark":{"type":"line","interpolate":"step-after","stroke":"#5c5c5c","strokeWidth":2.5,"clip":true},
   "encoding":{"x":{"field":"x","type":"quantitative","scale":{"domain":[-4.37,3.39],"nice":false,"zero":false},"axis":{"orient":"top","values":[-4,-3,-2,-1,0,1,2,3],"labels":false,"title":null}},
    "y":{"field":"b","type":"quantitative","scale":{"domain":[0,0.3874],"nice":false},"axis":{"orient":"right","values":[0,0.05,0.1,0.15,0.2,0.25,0.3,0.35],"labels":false,"title":"U/O-flow (S,B): (0.0, 0.0)% / (0.0, 0.0)%"}},"order":{"field":"i"}}},
  {"mark":{"type":"line","interpolate":"step-after","stroke":"#232323","strokeWidth":2.5,"clip":true},
   "encoding":{"x":{"field":"x","type":"quantitative","scale":{"domain":[-4.37,3.39],"nice":false,"zero":false},"axis":{"orient":"top","tickCount":39,"labels":false,"title":null,"tickSize":-5}},
    "y":{"field":"s","type":"quantitative","scale":{"domain":[0,0.3874],"nice":false},"axis":{"orient":"right","tickCount":39,"labels":false,"title":null,"tickSize":-5}},"order":{"field":"i"}}}
 ]}
],
"config":{
 "font":"Liberation Sans",
 "view":{"stroke":"#000","strokeWidth":2},
 "title":{"font":"Liberation Sans","fontSize":16,"fontWeight":"normal","color":"#1a1a1a","offset":8},
 "axis":{"grid":false,"domain":true,"domainColor":"#000","domainWidth":2,"tickColor":"#000","tickWidth":1.2,"tickSize":-9,"labelFont":"Liberation Sans","labelFontSize":14,"labelColor":"#111","labelPadding":14,"labelFlush":false,"labelOverlap":false,"titleFont":"Liberation Sans","titleFontSize":15,"titleFontWeight":"normal","titleColor":"#1a1a1a","zindex":1},
 "axisLeft":{"titleAnchor":"end","titleAlign":"right","titlePadding":5,"minExtent":45,"maxExtent":45},
 "axisBottom":{"titleAnchor":"end","titleAlign":"right","titleBaseline":"top"},
 "axisRight":{"titleAngle":270,"titleAnchor":"start","titleAlign":"left","titleBaseline":"top","titleFontSize":11,"titleFontWeight":"bold","titleColor":"#111","titlePadding":5},
 "line":{"strokeJoin":"miter","strokeCap":"square"}
}
}
